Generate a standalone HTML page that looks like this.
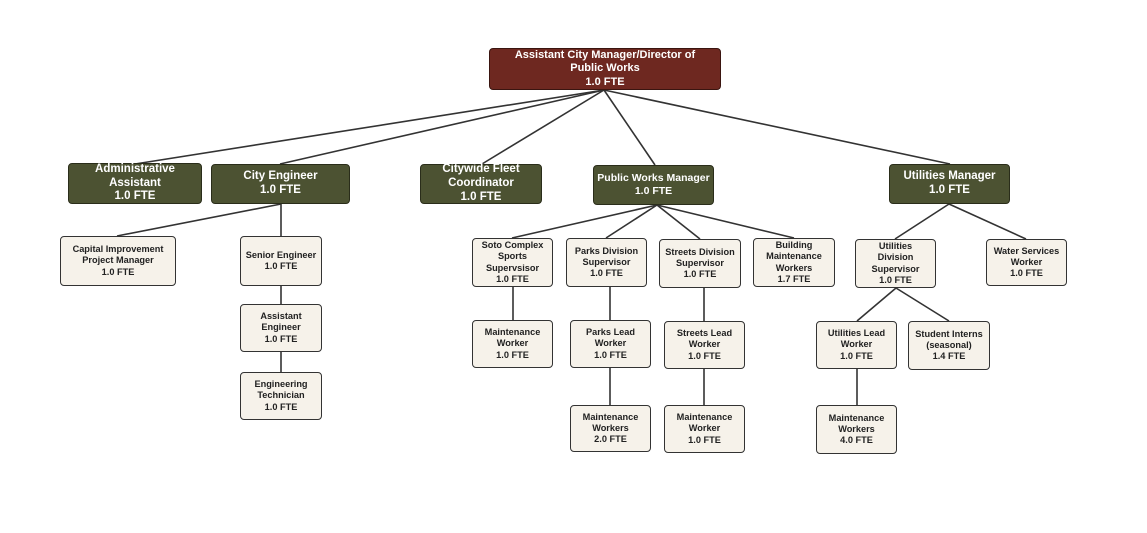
<!DOCTYPE html>
<html><head><meta charset="utf-8"><style>
body{margin:0;width:1147px;height:533px;background:#fff;position:relative;overflow:hidden;font-family:"Liberation Sans",sans-serif}
.b{position:absolute;box-sizing:border-box;display:flex;align-items:center;justify-content:center;text-align:center;border-radius:4px;border:1.5px solid #333;line-height:1.2}
.t{background:#6e2820;color:#fff;font-weight:bold;font-size:11px;border-color:#3a1510}
.g{background:#4c5232;color:#fff;font-weight:bold;font-size:11.5px;border-color:#2a2d1a}
.l{background:#f6f2ea;color:#222;font-size:9.2px;font-weight:bold}
svg{position:absolute;left:0;top:0}
</style></head><body>
<svg width="1147" height="533"><g stroke="#333" stroke-width="1.6" fill="none">
<line x1="604" y1="90" x2="135" y2="164"/>
<line x1="604" y1="90" x2="280" y2="164"/>
<line x1="604" y1="90" x2="482" y2="164"/>
<line x1="604" y1="90" x2="655" y2="165"/>
<line x1="604" y1="90" x2="950" y2="164"/>
<line x1="281" y1="204" x2="117" y2="236"/>
<line x1="281" y1="204" x2="281" y2="236"/>
<line x1="281" y1="286" x2="281" y2="304"/>
<line x1="281" y1="352" x2="281" y2="372"/>
<line x1="657" y1="205" x2="512" y2="238"/>
<line x1="657" y1="205" x2="606" y2="238"/>
<line x1="657" y1="205" x2="700" y2="239"/>
<line x1="657" y1="205" x2="794" y2="238"/>
<line x1="513" y1="287" x2="513" y2="320"/>
<line x1="610" y1="287" x2="610" y2="320"/>
<line x1="704" y1="288" x2="704" y2="321"/>
<line x1="610" y1="368" x2="610" y2="405"/>
<line x1="704" y1="369" x2="704" y2="405"/>
<line x1="949" y1="204" x2="895" y2="239"/>
<line x1="949" y1="204" x2="1026" y2="239"/>
<line x1="896" y1="288" x2="857" y2="321"/>
<line x1="896" y1="288" x2="949" y2="321"/>
<line x1="857" y1="369" x2="857" y2="405"/>
</g></svg>
<div class="b t" style="left:489px;top:48px;width:232px;height:42px">Assistant City Manager/Director of<br>Public Works<br>1.0 FTE</div>
<div class="b g" style="left:68px;top:163px;width:134px;height:41px">Administrative<br>Assistant<br>1.0 FTE</div>
<div class="b g" style="left:211px;top:164px;width:139px;height:40px">City Engineer<br>1.0 FTE</div>
<div class="b g" style="left:420px;top:164px;width:122px;height:40px">Citywide Fleet<br>Coordinator<br>1.0 FTE</div>
<div class="b g" style="left:593px;top:165px;width:121px;height:40px;font-size:10.5px">Public Works Manager<br>1.0 FTE</div>
<div class="b g" style="left:889px;top:164px;width:121px;height:40px">Utilities Manager<br>1.0 FTE</div>
<div class="b l" style="left:60px;top:236px;width:116px;height:50px">Capital Improvement<br>Project Manager<br>1.0 FTE</div>
<div class="b l" style="left:240px;top:236px;width:82px;height:50px">Senior Engineer<br>1.0 FTE</div>
<div class="b l" style="left:240px;top:304px;width:82px;height:48px">Assistant<br>Engineer<br>1.0 FTE</div>
<div class="b l" style="left:240px;top:372px;width:82px;height:48px">Engineering<br>Technician<br>1.0 FTE</div>
<div class="b l" style="left:472px;top:238px;width:81px;height:49px">Soto Complex<br>Sports<br>Supervsisor<br>1.0 FTE</div>
<div class="b l" style="left:566px;top:238px;width:81px;height:49px">Parks Division<br>Supervisor<br>1.0 FTE</div>
<div class="b l" style="left:659px;top:239px;width:82px;height:49px">Streets Division<br>Supervisor<br>1.0 FTE</div>
<div class="b l" style="left:753px;top:238px;width:82px;height:49px">Building<br>Maintenance<br>Workers<br>1.7 FTE</div>
<div class="b l" style="left:855px;top:239px;width:81px;height:49px">Utilities<br>Division<br>Supervisor<br>1.0 FTE</div>
<div class="b l" style="left:986px;top:239px;width:81px;height:47px">Water Services<br>Worker<br>1.0 FTE</div>
<div class="b l" style="left:472px;top:320px;width:81px;height:48px">Maintenance<br>Worker<br>1.0 FTE</div>
<div class="b l" style="left:570px;top:320px;width:81px;height:48px">Parks Lead<br>Worker<br>1.0 FTE</div>
<div class="b l" style="left:664px;top:321px;width:81px;height:48px">Streets Lead<br>Worker<br>1.0 FTE</div>
<div class="b l" style="left:816px;top:321px;width:81px;height:48px">Utilities Lead<br>Worker<br>1.0 FTE</div>
<div class="b l" style="left:908px;top:321px;width:82px;height:49px">Student Interns<br>(seasonal)<br>1.4 FTE</div>
<div class="b l" style="left:570px;top:405px;width:81px;height:47px">Maintenance<br>Workers<br>2.0 FTE</div>
<div class="b l" style="left:664px;top:405px;width:81px;height:48px">Maintenance<br>Worker<br>1.0 FTE</div>
<div class="b l" style="left:816px;top:405px;width:81px;height:49px">Maintenance<br>Workers<br>4.0 FTE</div>
</body></html>
